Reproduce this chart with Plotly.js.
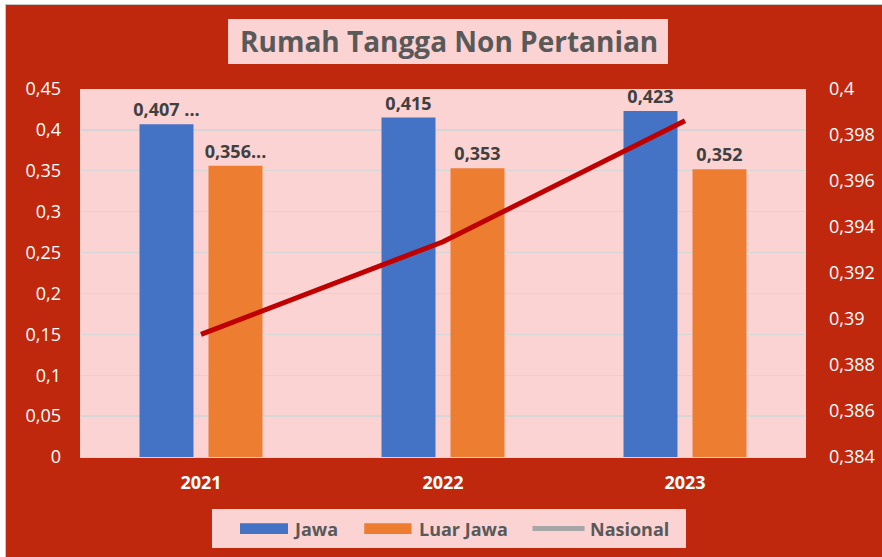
<!DOCTYPE html>
<html>
<head>
<meta charset="utf-8">
<script src="https://cdn.plot.ly/plotly-3.0.1.min.js"></script>
<style>
  html, body { margin: 0; padding: 0; background: #ffffff; width: 882px; height: 557px; overflow: hidden; }
  #chart { position: absolute; left: 5px; top: 4px; width: 876px; height: 552px;
           border-left: 1px solid #c8c8c8; border-top: 1px solid #c8c8c8; }
</style>
</head>
<body>
<div id="chart"></div>
<script>
const categories = ['2021', '2022', '2023'];
const jawa = [0.407, 0.415, 0.423];
const luarJawa = [0.356, 0.353, 0.352];
const nasional = [0.38933, 0.39336, 0.39862];
const jawaLabels = ['0,407 ...', '0,415', '0,423'];
const luarJawaLabels = ['0,356...', '0,353', '0,352'];
const seriesNames = ['Jawa', 'Luar Jawa', 'Nasional'];
const titleText = 'Rumah Tangga Non Pertanian';

const FONT = 'Open Sans, DejaVu Sans, sans-serif';
const RED_BG = '#C0280E';
const PINK = '#FBD3D3';
const GREY_TXT = '#595959';
const C_JAWA = '#4472C4';
const C_LUAR = '#ED7D31';
const C_NAS_LEGEND = '#A6A6A6';

const labelFont = { family: FONT, size: 18, color: '#404040', weight: 'bold' };

const traces = [
  {
    type: 'bar', name: seriesNames[0], x: categories, y: jawa,
    marker: { color: C_JAWA },
    text: jawaLabels, texttemplate: '%{text}', textposition: 'outside',
    constraintext: 'none', textfont: labelFont,
    cliponaxis: false, hoverinfo: 'skip'
  },
  {
    type: 'bar', name: seriesNames[1], x: categories, y: luarJawa,
    marker: { color: C_LUAR },
    text: luarJawaLabels, texttemplate: '%{text}', textposition: 'outside',
    constraintext: 'none', textfont: labelFont,
    cliponaxis: false, hoverinfo: 'skip'
  },
  {
    type: 'scatter', mode: 'lines', name: seriesNames[2], x: categories, y: nasional,
    yaxis: 'y2', line: { color: '#C00000', width: 5 }, hoverinfo: 'skip'
  }
];

// legend geometry (paper coordinates)
const LY = -0.1943;
const legendFont = { family: FONT, size: 18, color: GREY_TXT, weight: 'bold' };

const layout = {
  width: 876, height: 552,
  margin: { l: 74, r: 76, t: 84, b: 100 },
  paper_bgcolor: RED_BG,
  plot_bgcolor: PINK,
  separators: ',.',
  barmode: 'group',
  bargap: 0.4298,
  bargroupgap: 0.2174,
  showlegend: false,
  font: { family: FONT, color: '#ffffff' },
  xaxis: {
    type: 'category', showgrid: false, zeroline: false,
    showline: true, linecolor: '#D9D9D9', linewidth: 1,
    ticks: '', ticklabelstandoff: 9,
    tickfont: { family: FONT, size: 18, color: '#ffffff', weight: 'bold' }
  },
  yaxis: {
    range: [0, 0.45], dtick: 0.05, tick0: 0,
    showgrid: true, gridcolor: '#D6D6D6', gridwidth: 1.3,
    zeroline: false, showline: false, ticks: '', ticklabelstandoff: 18,
    tickfont: { family: FONT, size: 18, color: '#ffffff' }
  },
  yaxis2: {
    overlaying: 'y', side: 'right',
    range: [0.384, 0.4], dtick: 0.002, tick0: 0.384,
    showgrid: false, zeroline: false, showline: false, ticks: '', ticklabelstandoff: 22,
    tickfont: { family: FONT, size: 18, color: '#ffffff' }
  },
  shapes: [
    // title box
    { type: 'rect', xref: 'paper', yref: 'paper', x0: 0.2039, x1: 0.8099, y0: 1.0679, y1: 1.1902,
      fillcolor: PINK, line: { width: 0 }, layer: 'below' },
    // legend box
    { type: 'rect', xref: 'paper', yref: 'paper', x0: 0.1818, x1: 0.8347, y0: -0.2473, y1: -0.1413,
      fillcolor: PINK, line: { width: 0 }, layer: 'below' },
    // legend swatches
    { type: 'rect', xref: 'paper', yref: 'paper', x0: 0.2204, x1: 0.2865, y0: -0.2092, y1: -0.1802,
      fillcolor: C_JAWA, line: { width: 0 } },
    { type: 'rect', xref: 'paper', yref: 'paper', x0: 0.3915, x1: 0.4567, y0: -0.2092, y1: -0.1802,
      fillcolor: C_LUAR, line: { width: 0 } },
    { type: 'line', xref: 'paper', yref: 'paper', x0: 0.6234, x1: 0.6950, y0: LY, y1: LY,
      line: { color: C_NAS_LEGEND, width: 5 } }
  ],
  annotations: [
    { xref: 'paper', yref: 'paper', x: 0.5083, y: 1.1291, xanchor: 'center', yanchor: 'middle',
      showarrow: false, text: titleText,
      font: { family: FONT, size: 28, color: GREY_TXT, weight: 'bold' } },
    { xref: 'paper', yref: 'paper', x: 0.2920, y: LY, xanchor: 'left', yanchor: 'middle',
      showarrow: false, text: seriesNames[0], font: legendFont, borderpad: 0 },
    { xref: 'paper', yref: 'paper', x: 0.4654, y: LY, xanchor: 'left', yanchor: 'middle',
      showarrow: false, text: seriesNames[1], font: legendFont, borderpad: 0 },
    { xref: 'paper', yref: 'paper', x: 0.7008, y: LY, xanchor: 'left', yanchor: 'middle',
      showarrow: false, text: seriesNames[2], font: legendFont, borderpad: 0 }
  ]
};

Plotly.newPlot('chart', traces, layout, { staticPlot: true, displayModeBar: false });
</script>
</body>
</html>
